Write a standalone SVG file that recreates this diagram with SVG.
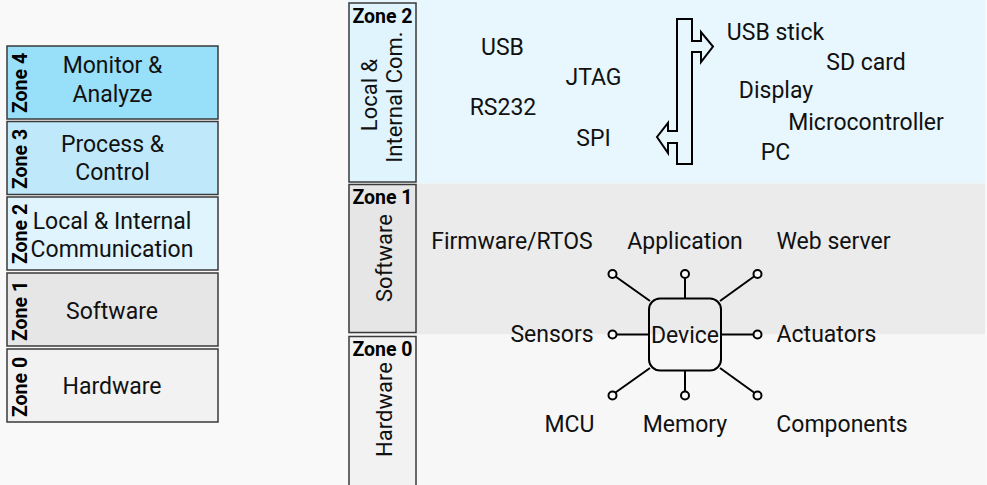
<svg xmlns="http://www.w3.org/2000/svg" width="987" height="485" viewBox="0 0 987 485">
<style>
.t{font-family:Roboto,"Liberation Sans",sans-serif;font-size:23px;fill:#111;text-anchor:middle}
.r{font-family:Roboto,"Liberation Sans",sans-serif;font-size:22px;fill:#111;text-anchor:middle}
.z{font-family:Roboto,"Liberation Sans",sans-serif;font-size:19.5px;font-weight:bold;fill:#000;text-anchor:middle}
.box{stroke:#3a3a3a;stroke-width:1.5}
.w{stroke:#000;stroke-width:2;fill:none}
.c{stroke:#000;stroke-width:2;fill:#f9f9f9}
</style>
<rect width="987" height="485" fill="#f9f9f9"/>
<g id="bands">
<rect x="348" y="0" width="637" height="183.5" fill="#e8f7fe"/>
<rect x="348" y="183.5" width="637" height="151" fill="#ebebeb"/>
<rect x="348" y="334.5" width="637" height="151" fill="#f7f7f7"/>
</g>
<g id="left-zone4"><rect class="box" x="7" y="46" width="211" height="73" fill="#98dff9"/>
<text class="z" transform="translate(26.5,83) rotate(-90)">Zone 4</text>
<text class="t" x="112.5" y="72.5">Monitor &amp;</text><text class="t" x="112.5" y="101.5">Analyze</text></g>
<g id="left-zone3"><rect class="box" x="7" y="121.5" width="211" height="73" fill="#bfe9fa"/>
<text class="z" transform="translate(26.5,159) rotate(-90)">Zone 3</text>
<text class="t" x="112.5" y="152">Process &amp;</text><text class="t" x="112.5" y="180">Control</text></g>
<g id="left-zone2"><rect class="box" x="7" y="197" width="211" height="73" fill="#dff4fd"/>
<text class="z" transform="translate(26.5,234) rotate(-90)">Zone 2</text>
<text class="t" x="112" y="228.5">Local &amp; Internal</text><text class="t" x="112" y="256.5">Communication</text></g>
<g id="left-zone1"><rect class="box" x="7" y="273" width="211" height="73" fill="#e6e6e6"/>
<text class="z" transform="translate(26.5,311) rotate(-90)">Zone 1</text>
<text class="t" x="112" y="318.5">Software</text></g>
<g id="left-zone0"><rect class="box" x="7" y="349" width="211" height="73" fill="#f2f2f2"/>
<text class="z" transform="translate(26.5,387) rotate(-90)">Zone 0</text>
<text class="t" x="112" y="393.5">Hardware</text></g>

<g id="right-zone2"><rect class="box" x="349" y="3" width="67" height="179" fill="#dff4fd"/>
<text class="z" x="382.5" y="22.5">Zone 2</text>
<text class="r" transform="translate(377,95) rotate(-90)">Local &amp;</text>
<text class="r" transform="translate(401.5,97) rotate(-90)">Internal Com.</text></g>
<g id="right-zone1"><rect class="box" x="349" y="184.5" width="67" height="148" fill="#e6e6e6"/>
<text class="z" x="382.5" y="204">Zone 1</text>
<text class="r" transform="translate(391.5,258) rotate(-90)">Software</text></g>
<g id="right-zone0"><rect class="box" x="349" y="336.5" width="67" height="150" fill="#f2f2f2"/>
<text class="z" x="382.5" y="356">Zone 0</text>
<text class="r" transform="translate(391.5,409.5) rotate(-90)">Hardware</text></g>

<g id="interfaces">
<text class="t" x="502.5" y="55">USB</text>
<text class="t" x="593.5" y="85">JTAG</text>
<text class="t" x="503" y="115">RS232</text>
<text class="t" x="593.5" y="145.5">SPI</text>
</g>
<g id="bus-arrow"><path d="M677,19 H692 V41 H701 V32 L713,46.5 L701,62 V52 H692 V164 H677 V143 H668 V153 L657,137 L668,123 V131 H677 Z" stroke="#000" stroke-width="2" fill="#e8f7fe" stroke-linejoin="miter"/></g>
<g id="peers">
<text class="t" x="775.5" y="40">USB stick</text>
<text class="t" x="866" y="70">SD card</text>
<text class="t" x="776" y="98">Display</text>
<text class="t" x="866" y="130">Microcontroller</text>
<text class="t" x="775.5" y="159.5">PC</text>
</g>
<g id="software">
<text class="t" x="512" y="249">Firmware/RTOS</text>
<text class="t" x="685" y="249">Application</text>
<text class="t" x="833.5" y="249">Web server</text>
</g>
<g id="device"><rect x="649" y="298.5" width="72" height="72" rx="11" ry="11" class="w"/>
<text class="t" x="685" y="343">Device</text></g>
<g id="connectors">
<line class="w" x1="615.5" y1="276.5" x2="650" y2="301"/>
<line class="w" x1="685" y1="278.5" x2="685" y2="298.5"/>
<line class="w" x1="754" y1="276.5" x2="720" y2="301"/>
<line class="w" x1="616.5" y1="334.5" x2="649" y2="334.5"/>
<line class="w" x1="721" y1="334.5" x2="753" y2="334.5"/>
<line class="w" x1="615.5" y1="392.5" x2="650" y2="368"/>
<line class="w" x1="685" y1="370.5" x2="685" y2="391"/>
<line class="w" x1="754" y1="392.5" x2="720" y2="368"/>
<circle class="c" cx="612.5" cy="274" r="4"/>
<circle class="c" cx="685" cy="274" r="4"/>
<circle class="c" cx="757.5" cy="274" r="4"/>
<circle class="c" cx="612.5" cy="334.5" r="4"/>
<circle class="c" cx="757.5" cy="334.5" r="4"/>
<circle class="c" cx="612.5" cy="395.5" r="4"/>
<circle class="c" cx="685" cy="395.5" r="4"/>
<circle class="c" cx="757.5" cy="395.5" r="4"/>
</g>
<g id="hardware">
<text class="t" x="552" y="342">Sensors</text>
<text class="t" x="826.5" y="342">Actuators</text>
<text class="t" x="569.5" y="431.5">MCU</text>
<text class="t" x="685" y="431.5">Memory</text>
<text class="t" x="842" y="431.5">Components</text>
</g>
</svg>
